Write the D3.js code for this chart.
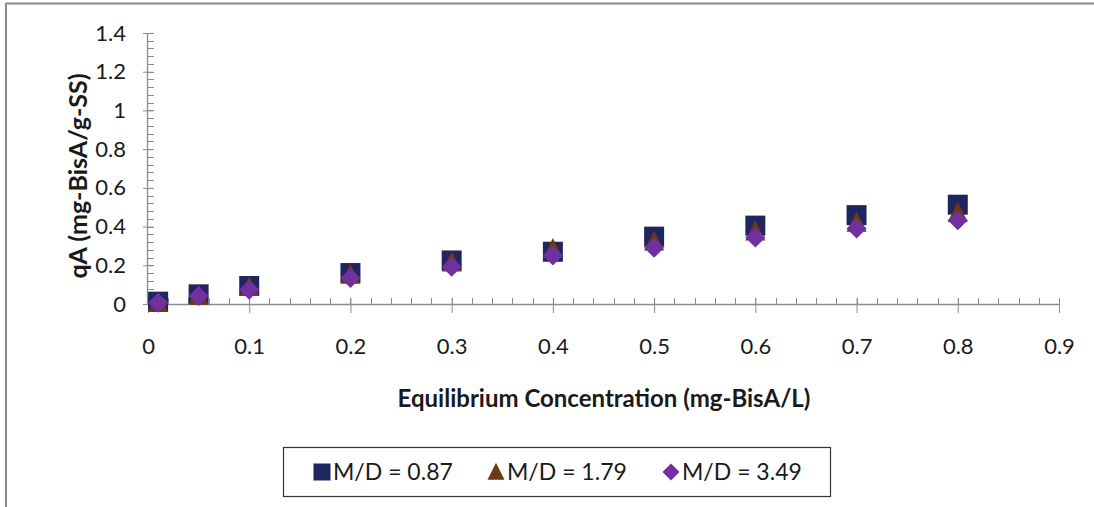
<!DOCTYPE html>
<html>
<head>
<meta charset="utf-8">
<script src="https://cdn.jsdelivr.net/npm/d3@7"></script>
<style>
body { margin: 0; background: #fff; }
text { font-family: Lato, "Open Sans", sans-serif; fill: #1a1a1a; }
</style>
</head>
<body>
<div id="chart"></div>
<script>
// sorption isotherm, three M/D ratios

let xValues = [0.01, 0.05, 0.1, 0.2, 0.3, 0.4, 0.5, 0.6, 0.7, 0.8]
let md087 = [0.012, 0.05, 0.093, 0.16, 0.225, 0.27, 0.348, 0.405, 0.459, 0.513]
let md179 = [0.005, 0.043, 0.088, 0.151, 0.215, 0.284, 0.323, 0.375, 0.42, 0.47]
let md349 = [0.007, 0.041, 0.074, 0.134, 0.193, 0.25, 0.29, 0.343, 0.39, 0.433]
let seriesNames = ["M/D = 0.87", "M/D = 1.79", "M/D = 3.49"]
let xTicks = [0, 0.1, 0.2, 0.3, 0.4, 0.5, 0.6, 0.7, 0.8, 0.9]
let yTicks = [0, 0.2, 0.4, 0.6, 0.8, 1, 1.2, 1.4]

let W = 1094, H = 507
let margin = {top: 33, left: 148, right: 35, bottom: 203}
let width = W - margin.left - margin.right
let height = H - margin.top - margin.bottom

let svg = d3.select('#chart')
    .append('svg')
    .attr('width', W)
    .attr('height', H)

// outer frame (only top + left edges show)
svg.append('line').attr('x1', 6).attr('y1', 3.5).attr('x2', W).attr('y2', 3.5)
    .attr('stroke', '#8a8a8a').attr('stroke-width', 2)
svg.append('line').attr('x1', 6).attr('y1', 3).attr('x2', 6).attr('y2', H)
    .attr('stroke', '#8a8a8a').attr('stroke-width', 2)

let g = svg.append('g')
    .attr('transform', `translate(${margin.left},${margin.top})`)

let x = d3.scaleLinear().domain([0, 0.9]).range([0, width])
let y = d3.scaleLinear().domain([0, 1.4]).range([height, 0])

let axisColor = '#8c8c8c'

// minor ticks
let yMinor = d3.range(0, 1.4001, 0.04)
g.selectAll('.yminor').data(yMinor).enter().append('line')
    .attr('x1', 0).attr('x2', 6)
    .attr('y1', d => Math.round(y(d)) + 0.5).attr('y2', d => Math.round(y(d)) + 0.5)
    .attr('stroke', axisColor)
let xMinor = d3.range(0, 0.9001, 0.02)
g.selectAll('.xminor').data(xMinor).enter().append('line')
    .attr('y1', height).attr('y2', height - 6)
    .attr('x1', d => Math.round(x(d)) + 0.5).attr('x2', d => Math.round(x(d)) + 0.5)
    .attr('stroke', axisColor)

let yAxis = g.append('g')
    .call(d3.axisLeft(y).tickValues(yTicks).tickSize(5).tickPadding(17).tickFormat(d => d3.format('')(d)))
let xAxis = g.append('g')
    .attr('transform', `translate(0,${height})`)
    .call(d3.axisBottom(x).tickValues(xTicks).tickSize(9).tickPadding(25).tickFormat(d => d3.format('')(d)))

// major ticks cross the axis
yAxis.selectAll('.tick line').attr('x2', 5).attr('x1', -5)
xAxis.selectAll('.tick line').attr('y1', -6).attr('y2', 9)

for (let a of [xAxis, yAxis]) {
    a.select('.domain').attr('stroke', axisColor).attr('stroke-width', 1.3)
    a.selectAll('.tick line').attr('stroke', axisColor)
    a.selectAll('.tick text').style('font-size', '22px').attr('fill', '#1a1a1a')
        .style('font-family', 'Lato, sans-serif')
}
xAxis.select('.domain').attr('d', `M0,0.5H${width}`)
yAxis.select('.domain').attr('d', `M-0.5,0V${height}`)

// titles
svg.append('text')
    .attr('x', 604).attr('y', 407)
    .attr('text-anchor', 'middle')
    .style('font-size', '24px').style('font-weight', 'bold')
    .text('Equilibrium Concentration (mg-BisA/L)')
svg.append('text')
    .attr('transform', 'translate(87,176) rotate(-90)')
    .attr('text-anchor', 'middle')
    .style('font-size', '25px').style('font-weight', 'bold')
    .text('qA (mg-BisA/g-SS)')

let colors = ['#1f265f', '#6b3a12', '#7030a0']

// marker shapes: square, triangle (20 wide, 20 tall), diamond (20 x 20)
function marker(s, r) {
    let p = d3.path()
    if (s == 0) {
        p.rect(-r, -r, 2 * r, 2 * r)
    } else if (s == 1) {
        p.moveTo(0, -r * 1.1); p.lineTo(r, r * 0.9); p.lineTo(-r, r * 0.9); p.closePath()
    } else {
        p.moveTo(0, -r); p.lineTo(r, 0); p.lineTo(0, r); p.lineTo(-r, 0); p.closePath()
    }
    return p.toString()
}

let allSeries = [md087, md179, md349]

allSeries.forEach((vals, s) => {
    let pts = xValues.map((xv, i) => ({x: xv, y: vals[i]}))
    g.selectAll('.pt' + s).data(pts).enter().append('path')
        .attr('class', 'pt' + s)
        .attr('d', marker(s, 10))
        .attr('transform', d => `translate(${x(d.x)},${y(d.y)})`)
        .attr('fill', colors[s])
})

// legend
let legend = svg.append('g')
svg.append('rect')
    .attr('x', 283.5).attr('y', 447.5).attr('width', 547).attr('height', 49)
    .attr('fill', 'none').attr('stroke', '#333').attr('stroke-width', 1.2)
let legendX = [322, 496, 671]
seriesNames.forEach((name, s) => {
    legend.append('path')
        .attr('d', marker(s, 8.5))
        .attr('transform', `translate(${legendX[s]},${472})`)
        .attr('fill', colors[s])
    legend.append('text')
        .attr('x', legendX[s] + 11).attr('y', 480)
        .style('font-size', '23px')
        .text(name)
})
</script>
</body>
</html>
